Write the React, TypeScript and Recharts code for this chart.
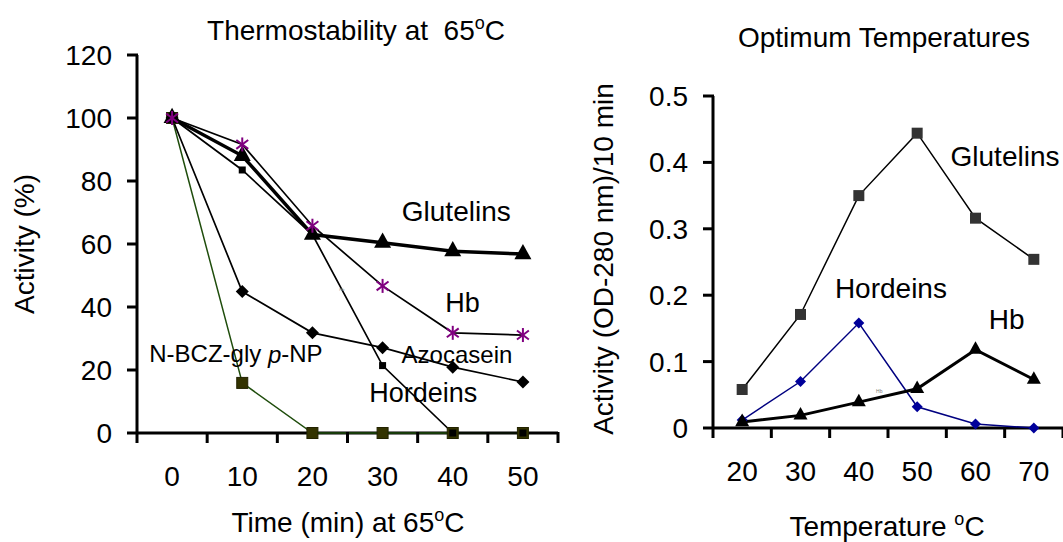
import React from 'react';
import { LineChart, Line, XAxis, YAxis, ReferenceDot, ReferenceLine } from 'recharts';

// Thermostability at 65 °C (% residual activity)
const minutes = [0, 10, 20, 30, 40, 50];
const glutelinsStab = [100, 88, 63, 60.4, 57.7, 56.8];
const hbStab = [100, 91.6, 65.8, 46.7, 31.8, 31.1];
const azocaseinStab = [100, 44.9, 31.8, 27.1, 20.9, 16.2];
const hordeinsStab = [100, 83.5, 63, 21.4, 0, 0];
const nbczStab = [100, 15.9, 0, 0, 0, 0];

// category labels (0, 10, ...) sit between tick marks (-5, 5, ...)
const timeTicks = [-5, 0, 5, 10, 15, 20, 25, 30, 35, 40, 45, 50, 55];
const stabTicks = [0, 20, 40, 60, 80, 100, 120];

// Optimum temperatures (OD-280 nm / 10 min)
const temps = [20, 30, 40, 50, 60, 70];
const glutelinsOpt = [0.058, 0.171, 0.35, 0.444, 0.316, 0.254];
const hordeinsOpt = [0.012, 0.07, 0.158, 0.032, 0.006, 0];
const hbOpt = [0.009, 0.019, 0.039, 0.059, 0.118, 0.073];

const tempTicks = [15, 20, 25, 30, 35, 40, 45, 50, 55, 60, 65, 70, 75];
const odTicks = [0, 0.1, 0.2, 0.3, 0.4, 0.5];

const stabData = minutes.map((t, i) => ({
  t,
  glutelins: glutelinsStab[i],
  hb: hbStab[i],
  azocasein: azocaseinStab[i],
  hordeins: hordeinsStab[i],
  nbcz: nbczStab[i],
}));

const optData = temps.map((t, i) => ({
  t,
  glutelins: glutelinsOpt[i],
  hordeins: hordeinsOpt[i],
  hb: hbOpt[i],
}));

const FONT = '"Liberation Sans", Arial, sans-serif';
const AXIS_W = 3;

// marker shapes
const triangle = (size: number, fill: string) => (p: any) => {
  const { cx, cy, index } = p;
  const h = size * 0.9;
  return (
    <path
      key={`tri-${index}`}
      d={`M${cx},${cy - (h * 2) / 3}L${cx + size / 2},${cy + h / 3}L${cx - size / 2},${cy + h / 3}Z`}
      fill={fill}
    />
  );
};

const square = (size: number, fill: string, stroke = 'none') => (p: any) => {
  const { cx, cy, index } = p;
  return (
    <rect
      key={`sq-${index}`}
      x={cx - size / 2}
      y={cy - size / 2}
      width={size}
      height={size}
      fill={fill}
      stroke={stroke}
      strokeWidth={1}
    />
  );
};

const diamond = (size: number, fill: string) => (p: any) => {
  const { cx, cy, index } = p;
  const r = size / 2;
  return (
    <path key={`dm-${index}`} d={`M${cx},${cy - r}L${cx + r},${cy}L${cx},${cy + r}L${cx - r},${cy}Z`} fill={fill} />
  );
};

const asterisk = (size: number, color: string) => (p: any) => {
  const { cx, cy, index } = p;
  const r = size / 2;
  const d = r * 0.85;
  return (
    <g key={`ast-${index}`} stroke={color} strokeWidth={2}>
      <line x1={cx} y1={cy - r} x2={cx} y2={cy + r} />
      <line x1={cx - d} y1={cy - d * 0.75} x2={cx + d} y2={cy + d * 0.75} />
      <line x1={cx - d} y1={cy + d * 0.75} x2={cx + d} y2={cy - d * 0.75} />
    </g>
  );
};

// axis ticks: outward tick mark + label
const yTick = (p: any) => {
  const { x, y, payload } = p;
  return (
    <g>
      <line x1={x - 10} y1={y} x2={x + 1} y2={y} stroke="#000" strokeWidth={AXIS_W} />
      <text x={x - 25} y={y} dy="0.36em" textAnchor="end" fontSize={28} fontFamily={FONT} fill="#000">
        {String(payload.value)}
      </text>
    </g>
  );
};

// odd multiples of 5 are category borders (tick marks), the rest are labels
const xTick = (p: any) => {
  const { x, y, payload } = p;
  const v = payload.value;
  if (Math.abs(v % 10) === 5) {
    return <line x1={x} y1={y - 1} x2={x} y2={y + 10} stroke="#000" strokeWidth={AXIS_W} />;
  }
  return (
    <text x={x} y={y + 33} dy="0.71em" textAnchor="middle" fontSize={28} fontFamily={FONT} fill="#000">
      {String(v)}
    </text>
  );
};

// text annotation centred on a reference point
const note = (content: React.ReactNode, size: number, fill = '#000') => (props: any) => {
  const vb = props.viewBox || {};
  const x = (vb.x ?? 0) + (vb.width ?? 0) / 2;
  const y = (vb.y ?? 0) + (vb.height ?? 0) / 2;
  return (
    <text x={x} y={y} textAnchor="middle" dominantBaseline="central" fontSize={size} fill={fill} fontFamily={FONT}>
      {content}
    </text>
  );
};

const Deg = ({ shift = 11 }: { shift?: number }) => (
  <>
    <tspan dy={-shift} fontSize={18}>o</tspan>
    <tspan dy={shift}>C</tspan>
  </>
);

const axisCommon = {
  axisLine: false,
  tickLine: false,
  tickSize: 0,
  tickMargin: 0,
  interval: 0 as const,
};

function StabilityChart() {
  return (
    <LineChart width={580} height={542} data={stabData} margin={{ top: 55, right: 22, bottom: 0, left: 0 }}>
      <XAxis dataKey="t" type="number" domain={[-5, 55]} ticks={timeTicks} height={109} tick={xTick} {...axisCommon} />
      <YAxis domain={[0, 120]} ticks={stabTicks} width={137} tick={yTick} {...axisCommon} />
      <ReferenceLine x={-5} stroke="#000" strokeWidth={AXIS_W} />
      <ReferenceLine y={0} stroke="#000" strokeWidth={AXIS_W} />
      <Line dataKey="nbcz" stroke="#1f4d0c" strokeWidth={1.5} dot={square(11, '#333300', '#222200')} activeDot={false} isAnimationActive={false} />
      <Line dataKey="azocasein" stroke="#000" strokeWidth={1.7} dot={diamond(13, '#000')} activeDot={false} isAnimationActive={false} />
      <Line dataKey="hordeins" stroke="#000" strokeWidth={1.7} dot={square(7, '#000')} activeDot={false} isAnimationActive={false} />
      <Line dataKey="glutelins" stroke="#000" strokeWidth={3.5} dot={triangle(17, '#000')} activeDot={false} isAnimationActive={false} />
      <Line dataKey="hb" stroke="#000" strokeWidth={1.7} dot={asterisk(14, '#800080')} activeDot={false} isAnimationActive={false} />
      <ReferenceDot x={40.5} y={70.3} r={0} fill="none" stroke="none" label={note('Glutelins', 28)} />
      <ReferenceDot x={41.4} y={41.4} r={0} fill="none" stroke="none" label={note('Hb', 27)} />
      <ReferenceDot x={40.6} y={24.9} r={0} fill="none" stroke="none" label={note('Azocasein', 24)} />
      <ReferenceDot x={35.8} y={12.8} r={0} fill="none" stroke="none" label={note('Hordeins', 27)} />
      <ReferenceDot
        x={9.1}
        y={25.2}
        r={0}
        fill="none"
        stroke="none"
        label={note(
          <>
            N-BCZ-gly <tspan fontStyle="italic">p</tspan>-NP
          </>,
          24
        )}
      />
      <ReferenceDot x={24.2} y={45.5} r={0} fill="none" stroke="none" label={note('Hb', 4, '#999')} />
    </LineChart>
  );
}

function OptimumChart() {
  return (
    <LineChart width={503} height={542} data={optData} margin={{ top: 96, right: 0, bottom: 0, left: 0 }}>
      <XAxis dataKey="t" type="number" domain={[15, 75]} ticks={tempTicks} height={114} tick={xTick} {...axisCommon} />
      <YAxis domain={[0, 0.5]} ticks={odTicks} width={153} tick={yTick} {...axisCommon} />
      <ReferenceLine x={15} stroke="#000" strokeWidth={AXIS_W} />
      <ReferenceLine y={0} stroke="#000" strokeWidth={AXIS_W} />
      <Line dataKey="glutelins" stroke="#000" strokeWidth={1.5} dot={square(11, '#333333')} activeDot={false} isAnimationActive={false} />
      <Line dataKey="hordeins" stroke="#000080" strokeWidth={1.5} dot={diamond(11, '#00009a')} activeDot={false} isAnimationActive={false} />
      <Line dataKey="hb" stroke="#000" strokeWidth={3} dot={triangle(14, '#000')} activeDot={false} isAnimationActive={false} />
      <ReferenceDot x={65.06} y={0.4085} r={0} fill="none" stroke="none" label={note('Glutelins', 28)} />
      <ReferenceDot x={45.5} y={0.2103} r={0} fill="none" stroke="none" label={note('Hordeins', 28)} />
      <ReferenceDot x={65.35} y={0.1628} r={0} fill="none" stroke="none" label={note('Hb', 28)} />
      <ReferenceDot x={43.5} y={0.0558} r={0} fill="none" stroke="none" label={note('Hb', 5, '#777')} />
    </LineChart>
  );
}

export default function App() {
  return (
    <div style={{ position: 'absolute', left: 0, top: 0, width: 1063, height: 542, background: '#fff', fontFamily: FONT }}>
      <div style={{ position: 'absolute', left: 0, top: 0 }}>
        <StabilityChart />
      </div>
      <div style={{ position: 'absolute', left: 560, top: 0 }}>
        <OptimumChart />
      </div>
      <svg width={1063} height={542} style={{ position: 'absolute', left: 0, top: 0, pointerEvents: 'none' }} fontFamily={FONT} fill="#000">
        <text x={356} y={40} fontSize={28} textAnchor="middle" style={{ whiteSpace: 'pre' }}>
          Thermostability at  65<Deg />
        </text>
        <text x={884} y={47} fontSize={28} textAnchor="middle">
          Optimum Temperatures
        </text>
        <text x={348} y={532} fontSize={28} textAnchor="middle">
          Time (min) at 65<Deg />
        </text>
        <text x={887} y={536} fontSize={28} textAnchor="middle" style={{ whiteSpace: 'pre' }}>
          Temperature <Deg />
        </text>
        <text x={34} y={244} fontSize={28} textAnchor="middle" transform="rotate(-90 34 244)">
          Activity (%)
        </text>
        <text x={613} y={259} fontSize={28} textAnchor="middle" transform="rotate(-90 613 259)">
          Activity (OD-280 nm)/10 min
        </text>
      </svg>
    </div>
  );
}
